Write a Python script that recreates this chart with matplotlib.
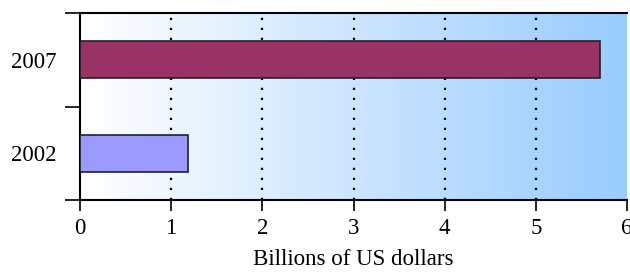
import numpy as np
import matplotlib.pyplot as plt
from matplotlib.colors import LinearSegmentedColormap

years = ["2002", "2007"]
values = [1.19, 5.70]
colors = ["#9999ff", "#993366"]

plt.rcParams['font.family'] = ['Liberation Serif', 'DejaVu Serif']

fig = plt.figure(figsize=(6.3, 2.72), dpi=100)
ax = fig.add_axes([80 / 630, 72 / 272, 547 / 630, 187 / 272])

# background gradient white -> light blue
cmap = LinearSegmentedColormap.from_list("bg", ["#ffffff", "#99ccff"])
grad = np.linspace(0, 1, 256).reshape(1, -1)
ax.imshow(grad, cmap=cmap, aspect="auto", extent=[0, 1, 0, 1],
          transform=ax.transAxes, zorder=0)

pos = np.arange(len(years))
ax.barh(pos, values, height=0.4, color=colors, edgecolor="#222222",
        linewidth=1.2, zorder=3)

ax.set_xlim(0, 6)
ax.set_ylim(-0.5, 1.5)
ax.set_xticks(range(0, 7))
ax.set_yticks([-0.5, 0.5, 1.5])
ax.set_yticklabels([])
ax.set_yticks(pos, minor=True)
ax.set_yticklabels(years, minor=True)
ax.tick_params(axis="y", which="major", length=11, width=1.2)
ax.tick_params(axis="y", which="minor", length=0, pad=17, labelsize=16.5)
ax.tick_params(axis="x", length=8, width=1.2, labelsize=16.5, pad=5)

for x in range(1, 6):
    ax.axvline(x, color="black", linestyle=(0, (1, 3.5)), linewidth=1.6, zorder=1)

ax.spines["right"].set_visible(False)
for s in ["left", "top", "bottom"]:
    ax.spines[s].set_linewidth(1.5)

ax.set_xlabel("Billions of US dollars", fontsize=16.5, labelpad=7)

fig.savefig("out.png", dpi=100)
